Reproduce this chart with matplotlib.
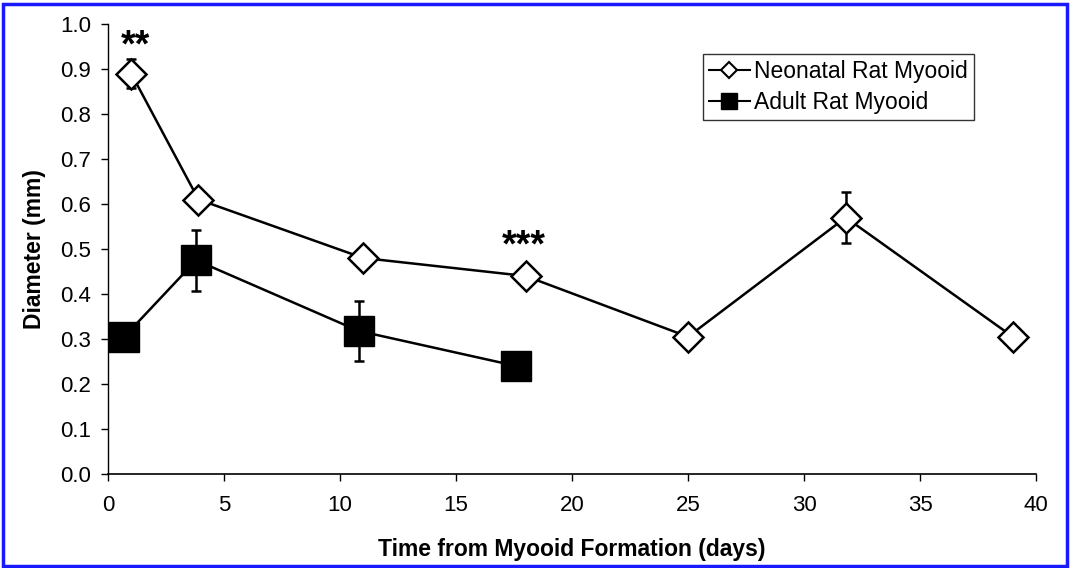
import matplotlib
matplotlib.use("Agg")
import matplotlib.pyplot as plt
from matplotlib.patches import Rectangle
from matplotlib.lines import Line2D

plt.rcParams['font.family'] = ['Liberation Sans', 'DejaVu Sans']

# Data
neo_x = [1, 3.9, 11, 18, 25, 31.8, 39]
neo_y = [0.89, 0.61, 0.48, 0.44, 0.305, 0.57, 0.305]
neo_err = [0.033, 0, 0, 0, 0, 0.057, 0]

adult_x = [0.7, 3.8, 10.8, 17.6]
adult_y = [0.305, 0.475, 0.318, 0.24]
adult_err = [0, 0.068, 0.067, 0]

x_ticks = [0, 5, 10, 15, 20, 25, 30, 35, 40]
y_ticks = [0.0, 0.1, 0.2, 0.3, 0.4, 0.5, 0.6, 0.7, 0.8, 0.9, 1.0]

annotations = [("**", 1.2, 0.95), ("***", 17.9, 0.505)]

fig = plt.figure(figsize=(10.7, 5.68), dpi=100)
ax = fig.add_axes([108/1070, (568-474)/568, (1036-108)/1070, (474-24)/568])

ax.errorbar(adult_x, adult_y, yerr=adult_err, color='black', lw=1.8,
            marker='s', markersize=21.5, markerfacecolor='black', markeredgecolor='black',
            capsize=3.5, elinewidth=1.8, capthick=1.8, zorder=3, clip_on=False)
ax.errorbar(neo_x, neo_y, yerr=neo_err, color='black', lw=1.8,
            marker='D', markersize=15, markerfacecolor='white', markeredgecolor='black',
            markeredgewidth=1.8, capsize=3.5, elinewidth=1.8, capthick=1.8, zorder=4, clip_on=False)

for txt, x, y in annotations:
    ax.text(x, y, txt, ha='center', va='center', fontsize=27, fontweight='bold')

ax.set_xlim(0, 40)
ax.set_ylim(0, 1.0)
ax.set_xticks(x_ticks)
ax.set_yticks(y_ticks)
ax.set_yticklabels([f"{v:.1f}" for v in y_ticks])
ax.tick_params(labelsize=16, direction='out', length=5, width=1)
ax.tick_params(axis='x', pad=10)
ax.tick_params(axis='y', pad=7)
for s in ['top', 'right']:
    ax.spines[s].set_visible(False)
ax.spines['left'].set_linewidth(1)
ax.spines['bottom'].set_linewidth(1.2)

ax.set_xlabel("Time from Myooid Formation (days)", fontsize=16.5, fontweight='bold', labelpad=16)
ax.set_ylabel("Diameter (mm)", fontsize=16.5, fontweight='bold', labelpad=10)

handles = [
    Line2D([], [], color='black', lw=1.5, marker='D', markersize=8,
           markerfacecolor='white', markeredgecolor='black', markeredgewidth=1.5),
    Line2D([], [], color='black', lw=1.5, marker='s', markersize=11,
           markerfacecolor='black'),
]
leg = ax.legend(handles, ["Neonatal Rat Myooid", "Adult Rat Myooid"],
                loc='upper right', bbox_to_anchor=(0.933, 0.933), borderaxespad=0,
                fontsize=16.5, frameon=True, fancybox=False, handlelength=1.8,
                handletextpad=0.2, borderpad=0.25, labelspacing=0.35)
leg.get_frame().set_edgecolor('black')
leg.get_frame().set_linewidth(1)

fig.patches.append(Rectangle((3/1070, 2/568), 1064/1070, 562/568, transform=fig.transFigure,
                             fill=False, edgecolor='#1a1aff', linewidth=2.5))

fig.savefig("out.png", dpi=100)
